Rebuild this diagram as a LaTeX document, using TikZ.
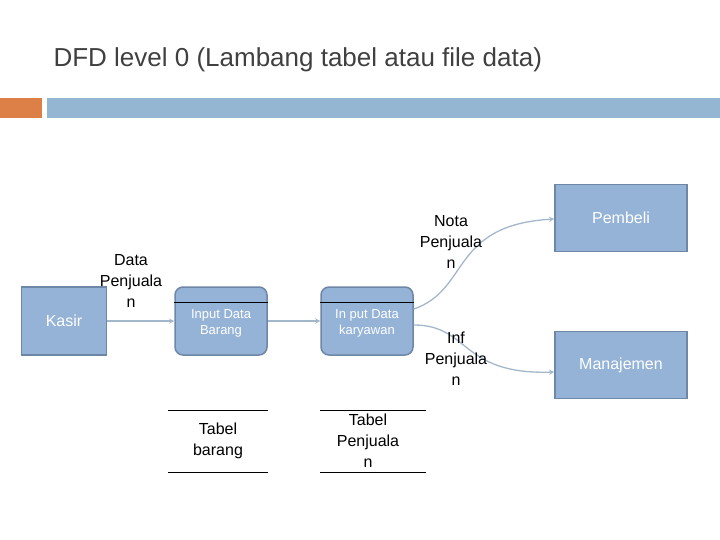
\documentclass[tikz,border=0pt]{standalone}
\usepackage{fontspec}
\setmainfont{Liberation Sans}
\usetikzlibrary{positioning}
\definecolor{boxfill}{HTML}{95B3D7}
\definecolor{boxline}{HTML}{6F87A6}
\definecolor{flow}{HTML}{A3B7CB}
\definecolor{barorange}{HTML}{DD8047}
\definecolor{barblue}{HTML}{94B6D2}
\definecolor{titlegray}{HTML}{404040}

\begin{document}
\begin{tikzpicture}[%
        x=1pt, y=-1pt,
        >=stealth,
        entity/.style={draw=boxline, line width=1.5pt, fill=boxfill, text=white,
                       minimum width=85pt, minimum height=68pt, font=\fontsize{16}{19}\selectfont},
        process/.style={draw=boxline, line width=1.5pt, fill=boxfill, rounded corners=8pt,
                        text=white, minimum width=92pt, minimum height=68pt, align=center,
                        font=\fontsize{13}{16}\selectfont},
        flowline/.style={->, draw=flow, line width=1.3pt},
        lbl/.style={align=center, font=\fontsize{16}{21}\selectfont}
        ]
        \useasboundingbox (0,0) rectangle (720,540);

        % title and header bars
        \node[anchor=west, text=titlegray, font=\fontsize{26}{30}\selectfont] (title) at (50,60)
              {DFD level 0 (Lambang tabel atau file data)};
        \fill[barorange] (0,98) rectangle (42,118);
        \fill[barblue] (47,98) rectangle (720,118);

        % external entities
        \node[entity] (kasir) at (64,321) {Kasir};
        \node[entity, minimum width=132pt, minimum height=67pt] (pembeli) at (621,218) {Pembeli};
        \node[entity, minimum width=132pt, minimum height=67pt] (manajemen) at (621,365) {Manajemen};

        % processes
        \node[process] (barang) at (221,321) {\\[-2pt]Input Data\\Barang};
        \node[process] (karyawan) at (367,321) {\\[-2pt]In put Data\\karyawan};
        \draw (barang.west |- 0,302) -- (barang.east |- 0,302);
        \draw (karyawan.west |- 0,302) -- (karyawan.east |- 0,302);

        % data stores
        \node[lbl, minimum width=100pt] (tbarang) at (218,441) {Tabel\\barang};
        \node[lbl, minimum width=106pt] (tpenjualan) at (368,441) {Tabel\\Penjuala\\n};
        \draw (168,410) -- (268,410) (168,472) -- (268,472);
        \draw (320,410) -- (426,410) (320,472) -- (426,472);

        % flows
        \draw[flowline] (kasir.east) -- (barang.west);
        \draw[flowline] (barang.east) -- (karyawan.west);
        \draw[flowline] (karyawan.east |- 0,309) .. controls (470,290) and (450,225) .. (pembeli.west |- 0,219);
        \draw[flowline] (karyawan.east |- 0,325) .. controls (470,325) and (460,375) .. (manajemen.west |- 0,372);

        % flow labels
        \node[lbl] (ldata) at (131,281) {Data\\Penjuala\\n};
        \node[lbl] (lnota) at (451,242) {Nota\\Penjuala\\n};
        \node[lbl] (linf) at (456,359) {Inf\\Penjuala\\n};
\end{tikzpicture}
\end{document}
